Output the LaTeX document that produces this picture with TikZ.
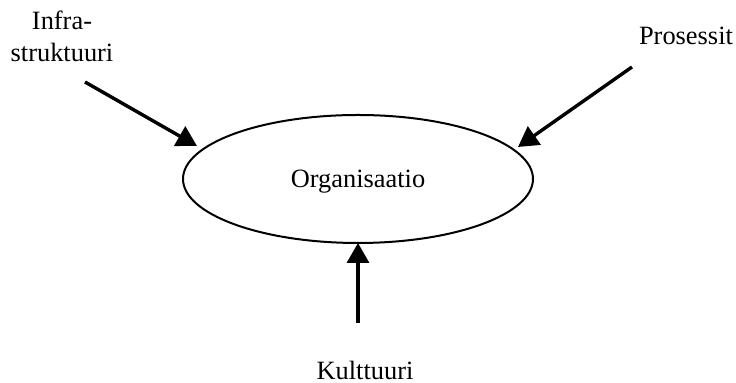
\documentclass[tikz,border=0pt]{standalone}
\usepackage{fontspec}
\setmainfont{Liberation Serif}
\usetikzlibrary{arrows.meta,shapes.geometric}
\begin{document}
\begin{tikzpicture}[x=0.5pt,y=-0.5pt,
  lbl/.style={font=\fontsize{13.2}{16}\selectfont, inner sep=0pt, align=center},
  feed/.style={line width=1.7pt, -{Triangle[length=10pt,width=11pt]}},
  hub/.style={draw, line width=1pt, ellipse, minimum width=175pt, minimum height=64pt, inner sep=0pt, text depth=0pt}]
  \useasboundingbox (0,0) rectangle (736,383);

  % central organisation ellipse
  \node[hub, lbl] (org) at (358,179) {Organisaatio};

  % influencing factors
  \node[lbl, anchor=base] (infra) at (62,62) {Infra-\\struktuuri};
  \node[lbl, anchor=base] (proc) at (686,45) {Prosessit};
  \node[lbl, anchor=base] (cult) at (365,380) {Kulttuuri};

  % arrow tails and tips
  \coordinate (infraS) at (85,82);
  \coordinate (infraT) at (197,146);
  \coordinate (procS) at (632,67);
  \coordinate (procT) at (518,147);
  \coordinate (cultS) at (358,323);
  \coordinate (cultT) at (358,243);

  \draw[feed] (infraS) -- (infraT);
  \draw[feed] (procS) -- (procT);
  \draw[feed] (cultS) -- (cultT);
\end{tikzpicture}
\end{document}
